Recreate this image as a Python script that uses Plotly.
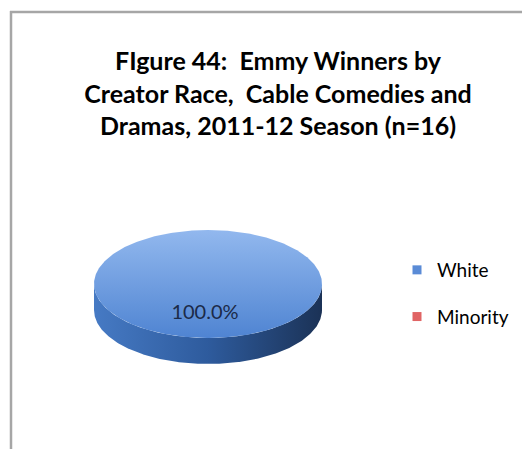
import numpy as np
import plotly.graph_objects as go

# ---- data ----
categories = ["White", "Minority"]
counts = [16, 0]
label_fmt = "{:.1%}"

title_lines = ["FIgure 44:  Emmy Winners by",
               "Creator Race,  Cable Comedies and",
               "Dramas, 2011-12 Season (n=16)"]

# ---- styles / geometry ----
W, H = 522, 449
CX, CY, RX, RY, DEPTH = 208, 284, 114, 54, 26
top_grad = {"White": [[0, "#4F84D2"], [1, "#92B8EE"]],
            "Minority": [[0, "#C0504D"], [1, "#E8908E"]]}
side_grad = {"White": [[0, "#467AC4"], [0.5, "#2E5B9D"], [1, "#1B3256"]],
             "Minority": [[0, "#A03E3B"], [1, "#6B2624"]]}
legend_col = {"White": "#5A8BD6", "Minority": "#E06464"}
FONT = "Lato"

fig = go.Figure()
total = float(sum(counts))
start = -np.pi / 2
for cat, v in zip(categories, counts):
    share = v / total
    if share > 0:
        end = start + 2 * np.pi * share
        t = np.linspace(start, end, 400)
        ts = t[np.sin(t) >= 0] if share < 1 else np.linspace(0, np.pi, 300)
        if len(ts) > 1:
            xs = CX + RX * np.cos(ts)
            ys = CY + RY * np.sin(ts)
            sx = np.concatenate([xs, xs[::-1]])
            sy = np.concatenate([ys, ys[::-1] + DEPTH])
            fig.add_trace(go.Scatter(x=sx, y=sy, mode="lines", fill="toself",
                                     line=dict(width=0, color=side_grad[cat][-1][1]),
                                     fillgradient=dict(type="horizontal", colorscale=side_grad[cat]),
                                     showlegend=False, hoverinfo="skip"))
        px = CX + RX * np.cos(t)
        py = CY + RY * np.sin(t)
        if share < 1:
            px = np.concatenate([[CX], px, [CX]])
            py = np.concatenate([[CY], py, [CY]])
        fig.add_trace(go.Scatter(x=px, y=py, mode="lines", fill="toself",
                                 line=dict(width=0, color=top_grad[cat][0][1]),
                                 fillgradient=dict(type="vertical", colorscale=top_grad[cat]),
                                 showlegend=False, hoverinfo="skip"))
        mid = (start + end) / 2
        fig.add_trace(go.Scatter(x=[CX - 3 + 0.55 * RX * np.cos(mid)],
                                 y=[CY + 0.55 * RY * np.sin(mid)],
                                 mode="text", text=[label_fmt.format(share)],
                                 textfont=dict(family=FONT, size=20, color="#1B2A48"),
                                 showlegend=False, hoverinfo="skip"))
        start = end

for cat in categories:
    fig.add_trace(go.Scatter(x=[None], y=[None], mode="markers", name=cat,
                             legendgroup=cat,
                             marker=dict(symbol="square", size=9, color=legend_col[cat])))

fig.update_layout(
    width=W, height=H,
    margin=dict(l=0, r=0, t=0, b=0, autoexpand=False),
    paper_bgcolor="white", plot_bgcolor="white",
    xaxis=dict(range=[0, W], visible=False, fixedrange=True),
    yaxis=dict(range=[H, 0], visible=False, fixedrange=True),
    title=dict(text="<br>".join(title_lines), x=278 / W, xanchor="center",
               y=1 - 70 / H, yanchor="top", yref="container", automargin=False,
               font=dict(family=FONT, size=25, color="#000000", weight="bold")),
    legend=dict(x=397 / W, xanchor="left", y=1 - 251 / H, yanchor="top",
                font=dict(family=FONT, size=19, color="#000000"),
                tracegroupgap=19, bgcolor="rgba(0,0,0,0)"),
    shapes=[
        dict(type="line", xref="paper", yref="paper", x0=10 / W, x1=1, y0=1 - 12 / H, y1=1 - 12 / H,
             line=dict(color="#A6A6A6", width=2.5)),
        dict(type="line", xref="paper", yref="paper", x0=11 / W, x1=11 / W, y0=0, y1=1 - 11 / H,
             line=dict(color="#A6A6A6", width=2.5)),
    ],
)

fig.write_html("out.html", config={"displayModeBar": False},
               post_script="document.body.style.margin='0px';document.body.style.overflow='hidden';")
